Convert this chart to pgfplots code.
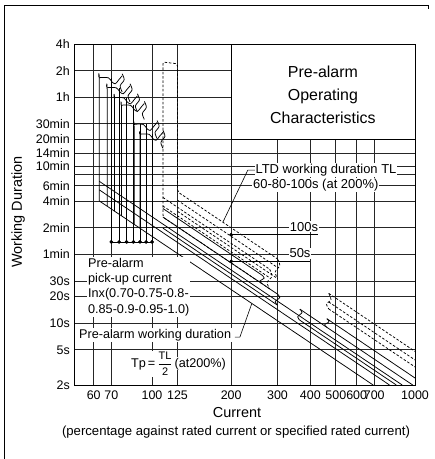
\documentclass[border=0pt]{standalone}
\usepackage{pgfplots}
\pgfplotsset{compat=1.18}
\usepackage{fontspec}
\setmainfont{Liberation Sans}
\begin{document}
\begin{tikzpicture}
\path[use as bounding box] (-74bp,-74bp) rectangle (361bp,385bp);
\begin{axis}[
 at={(0,0)}, anchor=south west,
 scale only axis, width=341bp, height=341bp,
 xmode=log, ymode=log,
 xmin=50.5, xmax=1000, ymin=2, ymax=14400,
 xtick={60,70,100,125,200,300,400,500,600,700,1000},
 xticklabels={60,70,100,125,200,300,400,500,600,700,1000},
 ytick={2,5,10,20,30,60,120,240,360,600,840,1200,1800,3600,7200,14400},
 yticklabels={2s,5s,10s,20s,30s,1min,2min,4min,6min,10min,14min,20min,30min,1h,2h,4h},
 extra y ticks={480}, extra y tick labels={}, extra y tick style={grid=major},
 grid=major, major grid style={black!85, line width=0.7bp},
 major tick length=0pt,
 tick label style={font=\fontsize{12.5}{14}\selectfont},
 xticklabel style={inner sep=0pt, anchor=north, yshift=-6bp},
 yticklabel style={inner sep=0pt, anchor=east, xshift=-4bp},
 axis line style={black, line width=0.8bp},
 clip=false,
 cycle list={{black, solid, mark=none}},
 every axis plot/.append style={line width=0.75bp, line join=round},
 dsh/.style={black, dash pattern=on 2.5bp off 1.8bp},
]
% title box
\filldraw[fill=white, draw=black, line width=0.7bp] (axis cs:200,1200) rectangle (axis cs:1000,14400);
\node[align=center, font=\fontsize{16}{23}\selectfont] at (rel axis cs:0.730,0.850) {Pre-alarm\\Operating\\Characteristics};

% pre-alarm pick-up flags (0.9 Inx vertical + wavy top + wavy 1.1 Inx end)
\addplot[black, smooth] coordinates {(63,241.9)(63,5379)(63,5970)(68.27,5970)(70.35,5379)(72.50,5106)(74.72,5667)(77,6289)};
\addplot[black, smooth] coordinates {(77,6626)(78.36,5667)(75.66,4846)(77,4145)};
\addplot[black, smooth] coordinates {(67.5,210.7)(67.5,4145)(67.5,4600)(73.14,4600)(75.38,4145)(77.68,3934)(80.06,4366)(82.5,4846)};
\addplot[black, smooth] coordinates {(82.5,5106)(83.96,4366)(81.07,3734)(82.5,3194)};
\addplot[black, smooth] coordinates {(72,185.2)(72,3190)(72,3540)(78.02,3540)(80.40,3190)(82.86,3027)(85.39,3360)(88,3729)};
\addplot[black, smooth] coordinates {(88,3929)(89.56,3360)(86.47,2874)(88,2458)};
\addplot[black, smooth] coordinates {(76.5,164.0)(76.5,2622)(76.5,2910)(82.90,2910)(85.43,2622)(88.04,2489)(90.73,2762)(93.5,3066)};
\addplot[black, smooth] coordinates {(93.5,3230)(95.15,2762)(91.87,2362)(93.5,2020)};
\addplot[black, smooth] coordinates {(85.5,131.3)(85.5,1595)(85.5,1770)(92.65,1770)(95.48,1595)(98.39,1514)(101.40,1680)(104.5,1865)};
\addplot[black, smooth] coordinates {(104.5,1965)(106.35,1680)(102.68,1437)(104.5,1229)};
\addplot[black, smooth] coordinates {(90,118.5)(90,1234)(90,1370)(97.52,1370)(100.50,1234)(103.57,1172)(106.74,1300)(110,1443)};
\addplot[black, smooth] coordinates {(110,1521)(111.95,1300)(108.09,1112)(110,951.2)};
% nominal pick-up verticals
\addplot[black] coordinates {(70,83)(70,5970)};
\addplot[black] coordinates {(75,83)(75,4600)};
\addplot[black] coordinates {(80,83)(80,3540)};
\addplot[black] coordinates {(85,83)(85,2910)};
\addplot[black] coordinates {(90,83)(90,1770)};
\addplot[black] coordinates {(95,83)(95,1770)};
\addplot[black] coordinates {(100,83)(100,1370)};
\addplot[black] coordinates {(70,83)(100,83)};
\addplot[black, only marks, mark=*, mark size=1.5bp] coordinates {(70,83)(75,83)(80,83)(85,83)(90,83)(95,83)(100,83)};

% pre-alarm working duration lines (solid)
\addplot[black] coordinates {(63,403.1)(894,2.0)};
\addplot[black] coordinates {(63,322.5)(800,2.0)};
\addplot[black] coordinates {(63,241.9)(693,2.0)};
\addplot[black] coordinates {(110,198.3)(262,34.96)};
\addplot[black] coordinates {(110,158.7)(300,21.33)};
\addplot[black] coordinates {(110,119.0)(300,16.0)};
\addplot[black, smooth] coordinates {(262,34.96)(267,32.3)(257,30.0)(262,27.97)};
\addplot[black, smooth] coordinates {(300,21.33)(306,19.5)(294,17.6)(300,16.0)};
\addplot[black] coordinates {(462,11.24)(1000,2.4)};
\addplot[black] coordinates {(365,14.41)(980,2.0)};
\addplot[black] coordinates {(365,10.81)(849,2.0)};
\addplot[black, smooth] coordinates {(365,14.41)(372,13.2)(358,11.8)(365,10.81)};
\addplot[black, smooth] coordinates {(462,11.24)(471,10.4)(453,9.6)(462,9.0)};

% LTD working duration lines (dashed)
\addplot[dsh, rounded corners=2bp] coordinates {(280,24.49)(110,158.7)(110,9000)(125,8600)(125,307.2)(300,53.33)};
\addplot[dsh] coordinates {(125,245.8)(300,42.67)};
\addplot[dsh] coordinates {(125,184.3)(300,32.0)};
\addplot[dsh] coordinates {(110,264.5)(280,40.82)};
\addplot[dsh] coordinates {(110,211.6)(280,32.65)};
\addplot[dsh, smooth] coordinates {(300,53.33)(306,45)(294,38)(300,32.0)};
\addplot[dsh, smooth] coordinates {(280,40.82)(286,34)(274,29)(280,24.49)};
\addplot[dsh] coordinates {(470,21.73)(1000,4.8)};
\addplot[dsh] coordinates {(470,17.38)(1000,3.84)};
\addplot[dsh] coordinates {(470,14.49)(1000,3.2)};
\addplot[dsh, smooth] coordinates {(470,21.73)(479,18.5)(461,16.5)(470,14.49)};

% 100s / 50s markers
\addplot[black] coordinates {(200,100)(427.6,100)};
\addplot[black] coordinates {(200,50)(400,50)};
\addplot[black, only marks, mark=*, mark size=1.5bp] coordinates {(200,100)(200,50)};

% leaders
\addplot[black, line width=0.6bp] coordinates {(246.1,539)(231.3,539)(186.3,140.3)};
\addplot[black, line width=0.6bp] coordinates {(206.7,6.96)(215.8,6.96)(239.2,16.5)};

% labels
\node[fill=white, inner sep=1pt, font=\fontsize{13}{14}\selectfont] at (rel axis cs:0.739,0.630) {LTD working duration TL};
\node[fill=white, inner sep=1pt, font=\fontsize{13}{14}\selectfont] at (rel axis cs:0.709,0.5865) {60-80-100s (at 200\%)};
\node[fill=white, inner sep=1pt, font=\fontsize{13}{14}\selectfont] at (rel axis cs:0.6745,0.4642) {100s};
\node[fill=white, inner sep=1pt, font=\fontsize{13}{14}\selectfont] at (rel axis cs:0.6628,0.3862) {50s};
\node[anchor=north west, align=left, fill=white, inner sep=1pt, font=\fontsize{12.7}{15.3}\selectfont] at (rel axis cs:0.038,0.3754) {Pre-alarm\\pick-up current\\Inx(0.70-0.75-0.8-\\0.85-0.9-0.95-1.0)};
\node[anchor=west, fill=white, inner sep=1pt, font=\fontsize{12.7}{15}\selectfont] at (rel axis cs:0.0117,0.1466) {Pre-alarm working duration};
\node[anchor=west, fill=white, inner sep=1pt, font=\fontsize{12.7}{15}\selectfont] (tp) at (rel axis cs:0.164,0.062) {Tp\,=\,$\displaystyle{\hbox{\fontsize{11}{12}\selectfont TL}\over\hbox{\fontsize{11}{12}\selectfont 2}}$};
\node[anchor=west, fill=white, inner sep=0.5pt, font=\fontsize{12.7}{15}\selectfont] at (tp.east) {(at200\%)};

% axis titles
\node[rotate=90, font=\fontsize{14.5}{16}\selectfont] at (rel axis cs:-0.164,0.507) {Working Duration};
\node[font=\fontsize{14.5}{16}\selectfont] at (rel axis cs:0.478,-0.082) {Current};
\node[font=\fontsize{13.2}{15}\selectfont] at (rel axis cs:0.475,-0.137) {(percentage against rated current or specified rated current)};
\end{axis}
\draw[line width=0.8bp] (-70bp,-74bp) -- (-70bp,380bp) -- (354bp,380bp) -- (354bp,376bp);
\end{tikzpicture}
\end{document}
